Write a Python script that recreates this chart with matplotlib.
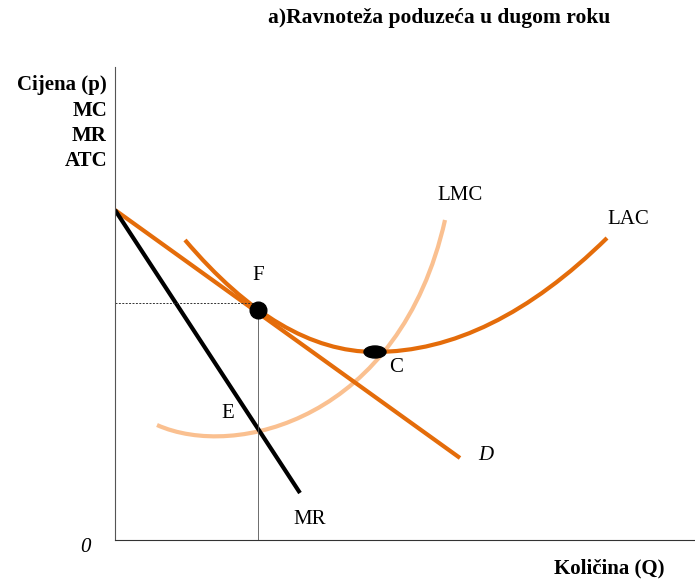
import matplotlib.pyplot as plt
from matplotlib.path import Path
from matplotlib.patches import PathPatch, Ellipse

plt.rcParams['font.family'] = ['Liberation Serif', 'DejaVu Serif']

# data coordinates: x = quantity, y = price
d_x = [0, 345]
d_y = [330, 82]

mr_x = [0, 185]
mr_y = [330, 47]

# LAC: two quadratic bezier pieces (start, control, min C, control, end)
lac_x = [70, 165, 260, 376, 492]
lac_y = [300, 188, 188, 188, 302]

# LMC: one cubic bezier (start, control, control, end)
lmc_x = [42, 120, 285, 330]
lmc_y = [115, 80, 120, 320]

f_pt = (143, 230)
c_pt = (260, 188)
f_level = 237

orange = '#E46C0A'
peach = '#FAC090'

fig = plt.figure(figsize=(6.95, 5.82), dpi=100)
ax = fig.add_axes([115/695, 42/582, 580/695, 473/582])
ax.set_xlim(0, 580)
ax.set_ylim(0, 473)
for s in ['top', 'right']:
	ax.spines[s].set_visible(False)
ax.spines['left'].set_color('#555555')
ax.spines['bottom'].set_color('#333333')
ax.set_xticks([])
ax.set_yticks([])

lmc_path = Path(list(zip(lmc_x, lmc_y)), [Path.MOVETO, Path.CURVE4, Path.CURVE4, Path.CURVE4])
ax.add_patch(PathPatch(lmc_path, fill=False, edgecolor=peach, lw=3, capstyle='butt'))

ax.plot(d_x, d_y, color=orange, lw=3, solid_capstyle='butt')

lac_path = Path(list(zip(lac_x, lac_y)), [Path.MOVETO, Path.CURVE3, Path.CURVE3, Path.CURVE3, Path.CURVE3])
ax.add_patch(PathPatch(lac_path, fill=False, edgecolor=orange, lw=3, capstyle='butt'))

ax.plot(mr_x, mr_y, color='black', lw=3, solid_capstyle='butt')

ax.plot([0, f_pt[0]], [f_level, f_level], color='#333333', lw=0.7, ls=(0, (2, 1.5)))
ax.plot([f_pt[0], f_pt[0]], [0, f_level], color='#555555', lw=0.6)

ax.plot(*f_pt, 'o', color='black', ms=12)
ax.add_patch(Ellipse(c_pt, 22, 12, color='black', zorder=5))

ax.text(143, 265, 'F', fontsize=15, ha='center', va='center')
ax.text(281, 173, 'C', fontsize=15, ha='center', va='center')
ax.text(113, 126, 'E', fontsize=15, ha='center', va='center')
ax.text(371, 84, 'D', fontsize=15, style='italic', ha='center', va='center')
ax.text(345, 344, 'LMC', fontsize=15, ha='center', va='center')
ax.text(513, 320, 'LAC', fontsize=15, ha='center', va='center')
ax.text(195, 20, 'MR', fontsize=15, ha='center', va='center')

fig.text(439/695, 1 - 18/582, 'a)Ravnoteža poduzeća u dugom roku', fontsize=15.5,
	fontweight='bold', ha='center', va='center')
ylab = ['Cijena (p)', 'MC', 'MR', 'ATC']
for i, t in enumerate(ylab):
	fig.text(107/695, 1 - (85 + i*25.5)/582, t, fontsize=15, fontweight='bold',
		ha='right', va='center')
fig.text(85/695, 1 - 548/582, '0', fontsize=15, style='italic', ha='center', va='center')
fig.text(665/695, 1 - 568/582, 'Količina (Q)', fontsize=15, fontweight='bold',
	ha='right', va='center')

fig.savefig('out.png', dpi=100)
